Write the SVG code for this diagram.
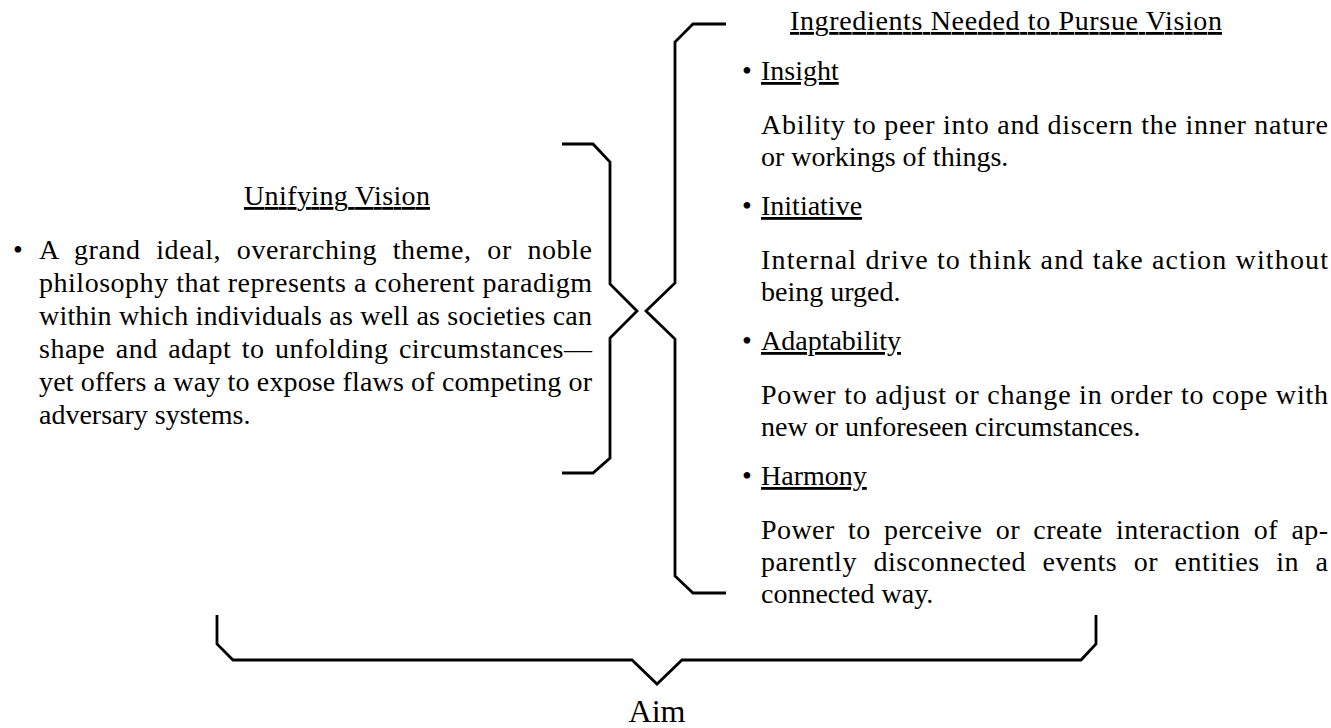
<svg xmlns="http://www.w3.org/2000/svg" width="1331" height="728" viewBox="0 0 1331 728">
<style>
text{font-family:"Liberation Serif","Times New Roman",serif;font-size:28px;fill:#000}
.u{text-decoration:underline}
.aim{font-size:32px}
.br{fill:none;stroke:#000;stroke-width:2.8;stroke-linejoin:miter}
</style>
<rect width="1331" height="728" fill="#fff"/>
<g id="connectors">
<path class="br" d="M562,144 L593,144 L610,162 L610,284 L637,311 L610,338 L610,458 L593,473 L562,473"/>
<path class="br" d="M726,24 L693,24 L675,42 L675,283 L646,311 L675,339 L675,576 L693,593 L726,593"/>
<path class="br" d="M217,615 L217,644 L233,660 L632,660 L657,684 L682,660 L1081,660 L1096,644 L1096,615"/>
</g>
<g id="unifying-vision">
<text class="u" x="244" y="205" textLength="186" lengthAdjust="spacing">Unifying Vision</text>
<text x="13" y="259">•</text>
<text x="39" y="259" word-spacing="8" textLength="553" lengthAdjust="spacing">A grand ideal, overarching theme, or noble</text>
<text x="39" y="292" textLength="553" lengthAdjust="spacing">philosophy that represents a coherent paradigm</text>
<text x="39" y="325" textLength="553" lengthAdjust="spacing">within which individuals as well as societies can</text>
<text x="39" y="358" word-spacing="3" textLength="553" lengthAdjust="spacing">shape and adapt to unfolding circumstances—</text>
<text x="39" y="391" textLength="553" lengthAdjust="spacing">yet offers a way to expose flaws of competing or</text>
<text x="39" y="424">adversary systems.</text>
</g>
<g id="ingredients">
<text class="u" x="790" y="30" textLength="432" lengthAdjust="spacing">Ingredients Needed to Pursue Vision</text>
</g>
<g id="insight">
<text x="742" y="80">•</text>
<text class="u" x="761" y="80">Insight</text>
<text x="761" y="134" textLength="567" lengthAdjust="spacing">Ability to peer into and discern the inner nature</text>
<text x="761" y="166">or workings of things.</text>
</g>
<g id="initiative">
<text x="742" y="215">•</text>
<text class="u" x="761" y="215">Initiative</text>
<text x="761" y="269" textLength="567" lengthAdjust="spacing">Internal drive to think and take action without</text>
<text x="761" y="301">being urged.</text>
</g>
<g id="adaptability">
<text x="742" y="350">•</text>
<text class="u" x="761" y="350">Adaptability</text>
<text x="761" y="404" textLength="567" lengthAdjust="spacing">Power to adjust or change in order to cope with</text>
<text x="761" y="436">new or unforeseen circumstances.</text>
</g>
<g id="harmony">
<text x="742" y="485">•</text>
<text class="u" x="761" y="485">Harmony</text>
<text x="761" y="539" word-spacing="6" textLength="567" lengthAdjust="spacing">Power to perceive or create interaction of ap-</text>
<text x="761" y="571" word-spacing="9" textLength="567" lengthAdjust="spacing">parently disconnected events or entities in a</text>
<text x="761" y="603">connected way.</text>
</g>
<g id="aim">
<text class="aim" x="657" y="722" text-anchor="middle">Aim</text>
</g>
</svg>
